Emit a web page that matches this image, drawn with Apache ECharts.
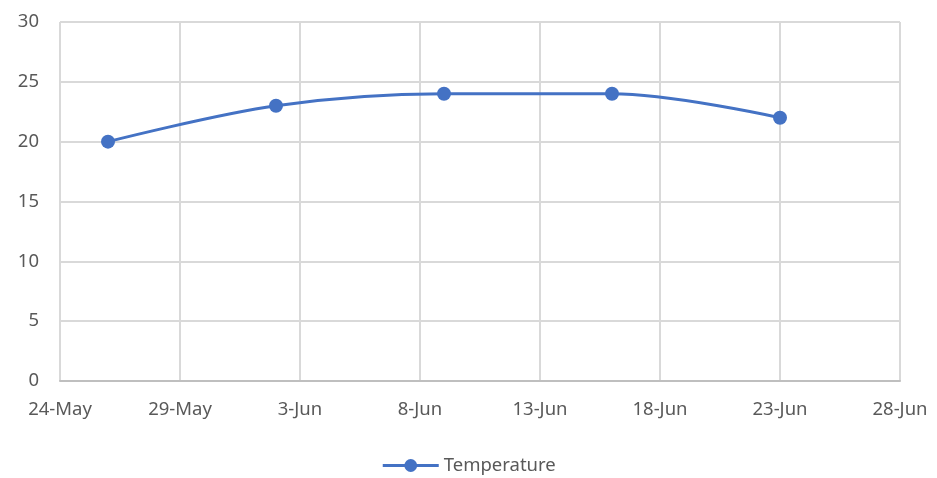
<!DOCTYPE html>
<html>
<head>
<meta charset="utf-8">
<script src="https://cdn.jsdelivr.net/npm/echarts@6/dist/echarts.min.js"></script>
<style>
  html, body { margin: 0; padding: 0; background: #fff; }
  #chart { width: 937px; height: 478px; }
</style>
</head>
<body>
<div id="chart"></div>
<script>
// data
const dates = ["2020-05-26", "2020-06-02", "2020-06-09", "2020-06-16", "2020-06-23"];
const temperature = [20, 23, 24, 24, 22];
const xStart = "2020-05-24";   // first x tick
const xEnd = "2020-06-28";     // last x tick
const yTicks = [0, 5, 10, 15, 20, 25, 30];

const DAY = 24 * 3600 * 1000;
const months = ["Jan","Feb","Mar","Apr","May","Jun","Jul","Aug","Sep","Oct","Nov","Dec"];
const t0 = Date.parse(xStart + "T00:00:00Z");
const dayOf = s => Math.round((Date.parse(s + "T00:00:00Z") - t0) / DAY);
const label = d => {
  const dt = new Date(t0 + d * DAY);
  return dt.getUTCDate() + "-" + months[dt.getUTCMonth()];
};

const points = dates.map((d, i) => [dayOf(d), temperature[i]]);

const chart = echarts.init(document.getElementById("chart"));
const font = "'Noto Sans', 'Open Sans', sans-serif";

chart.setOption({
  animation: false,
  grid: { left: 60, right: 37, top: 22, bottom: 97 },
  xAxis: {
    type: "value",
    min: 0,
    max: dayOf(xEnd),
    interval: 5,
    axisLine: { show: true, lineStyle: { color: "#bfbfbf", width: 2 } },
    axisTick: { show: false },
    splitLine: { show: true, lineStyle: { color: "#d9d9d9", width: 2 } },
    axisLabel: {
      formatter: v => label(v),
      color: "#595959",
      fontFamily: font,
      fontSize: 18.5,
      margin: 19
    }
  },
  yAxis: {
    type: "value",
    min: yTicks[0],
    max: yTicks[yTicks.length - 1],
    interval: 5,
    axisLine: { show: false },
    axisTick: { show: false },
    splitLine: { show: true, lineStyle: { color: "#d9d9d9", width: 2 } },
    axisLabel: {
      color: "#595959",
      fontFamily: font,
      fontSize: 18.5,
      margin: 21
    }
  },
  legend: {
    bottom: -2,
    left: "center",
    itemWidth: 56,
    itemHeight: 16,
    itemGap: 6,
    lineStyle: { width: 3 },
    textStyle: { color: "#595959", fontFamily: font, fontSize: 18.5 },
    data: ["Temperature"]
  },
  series: [{
    name: "Temperature",
    type: "line",
    data: points,
    smooth: 0.35,
    symbol: "circle",
    symbolSize: 14,
    lineStyle: { color: "#4472c4", width: 3 },
    itemStyle: { color: "#4472c4" }
  }]
});
</script>
</body>
</html>
